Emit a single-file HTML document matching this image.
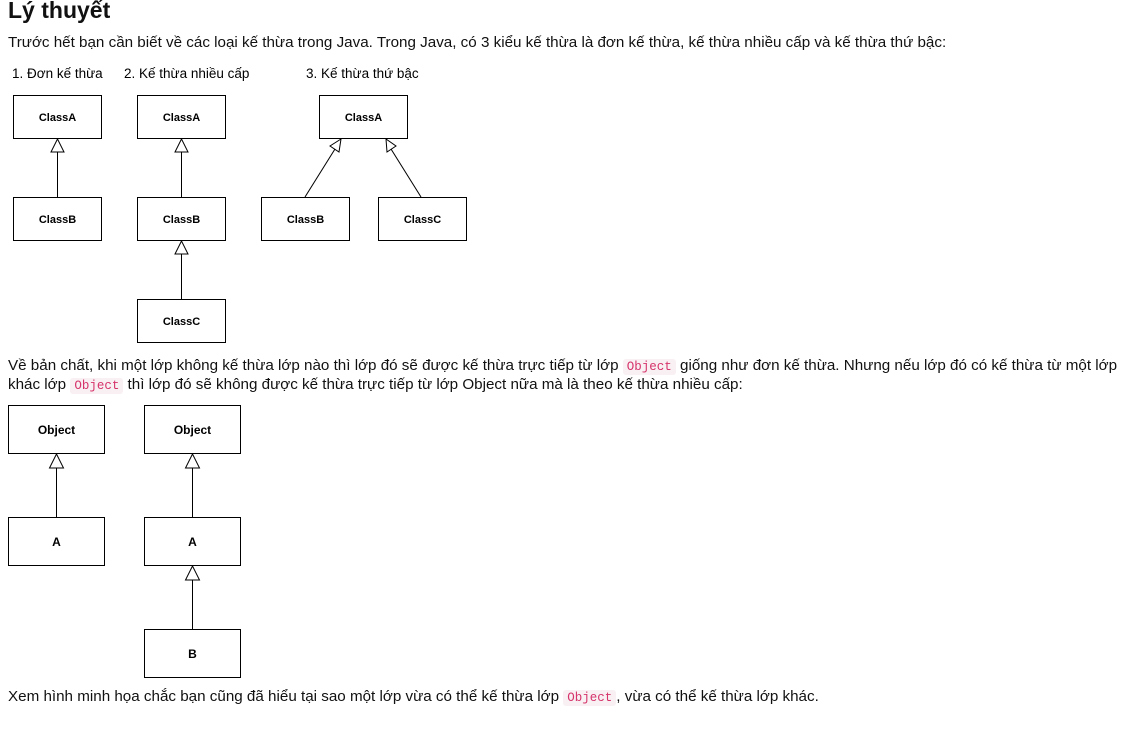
<!DOCTYPE html>
<html><head><meta charset="utf-8"><style>
body{margin:0;width:1137px;height:733px;background:#fff;position:relative;font-family:"Liberation Sans",sans-serif;color:#111;overflow:hidden}
.t{position:absolute;white-space:nowrap;font-size:15.2px}
h1{position:absolute;left:8px;top:-3px;margin:0;font-size:23px;font-weight:bold}
code{font-family:"Liberation Mono",monospace;font-size:12.5px;color:#d6336c;background:#f8f0f2;padding:1px 4px;border-radius:3px}
svg{position:absolute;left:0;top:0}
svg text{font-family:"Liberation Sans",sans-serif}
</style></head><body>
<h1>Lý thuyết</h1>
<div class="t" style="left:8px;top:34px">Trước hết bạn cần biết về các loại kế thừa trong Java. Trong Java, có 3 kiểu kế thừa là đơn kế thừa, kế thừa nhiều cấp và kế thừa thứ bậc:</div>
<div class="t" style="left:8px;top:357px">Về bản chất, khi một lớp không kế thừa lớp nào thì lớp đó sẽ được kế thừa trực tiếp từ lớp <code>Object</code> giống như đơn kế thừa. Nhưng nếu lớp đó có kế thừa từ một lớp</div>
<div class="t" style="left:8px;top:376px">khác lớp <code>Object</code> thì lớp đó sẽ không được kế thừa trực tiếp từ lớp Object nữa mà là theo kế thừa nhiều cấp:</div>
<div class="t" style="left:8px;top:688px">Xem hình minh họa chắc bạn cũng đã hiểu tại sao một lớp vừa có thể kế thừa lớp <code>Object</code>, vừa có thể kế thừa lớp khác.</div>
<svg width="1137" height="733">
<g font-size="13.5" fill="#000">
<text x="12" y="78">1. Đơn kế thừa</text>
<text x="124" y="78">2. Kế thừa nhiều cấp</text>
<text x="306" y="78">3. Kế thừa thứ bậc</text>
</g>
<g fill="#fff" stroke="#000" stroke-width="1">
<rect x="13.5" y="95.5" width="88" height="43"/><rect x="13.5" y="197.5" width="88" height="43"/>
<rect x="137.5" y="95.5" width="88" height="43"/><rect x="137.5" y="197.5" width="88" height="43"/><rect x="137.5" y="299.5" width="88" height="43"/>
<rect x="319.5" y="95.5" width="88" height="43"/><rect x="261.5" y="197.5" width="88" height="43"/><rect x="378.5" y="197.5" width="88" height="43"/>
<rect x="8.5" y="405.5" width="96" height="48"/><rect x="8.5" y="517.5" width="96" height="48"/>
<rect x="144.5" y="405.5" width="96" height="48"/><rect x="144.5" y="517.5" width="96" height="48"/><rect x="144.5" y="629.5" width="96" height="48"/>
<line x1="57.5" y1="152" x2="57.5" y2="197"/><polygon points="57.5,139 51,152 64,152"/>
<line x1="181.5" y1="152" x2="181.5" y2="197"/><polygon points="181.5,139 175,152 188,152"/>
<line x1="181.5" y1="254" x2="181.5" y2="299"/><polygon points="181.5,241 175,254 188,254"/>
<line x1="305" y1="197" x2="335" y2="149"/><polygon points="341,139 330,146 339,152"/>
<line x1="421" y1="197" x2="391" y2="149"/><polygon points="386,139 387,152 396,146"/>
<line x1="56.5" y1="468" x2="56.5" y2="517"/><polygon points="56.5,454 49.5,468 63.5,468"/>
<line x1="192.5" y1="468" x2="192.5" y2="517"/><polygon points="192.5,454 185.5,468 199.5,468"/>
<line x1="192.5" y1="580" x2="192.5" y2="629"/><polygon points="192.5,566 185.5,580 199.5,580"/>
</g>
<g font-size="11" font-weight="bold" text-anchor="middle" fill="#000">
<text x="57.5" y="121">ClassA</text><text x="57.5" y="223">ClassB</text>
<text x="181.5" y="121">ClassA</text><text x="181.5" y="223">ClassB</text><text x="181.5" y="325">ClassC</text>
<text x="363.5" y="121">ClassA</text><text x="305.5" y="223">ClassB</text><text x="422.5" y="223">ClassC</text>
<text x="56.5" y="434" font-size="12">Object</text><text x="56.5" y="546" font-size="12">A</text>
<text x="192.5" y="434" font-size="12">Object</text><text x="192.5" y="546" font-size="12">A</text><text x="192.5" y="658" font-size="12">B</text>
</g>
</svg>
</body></html>
